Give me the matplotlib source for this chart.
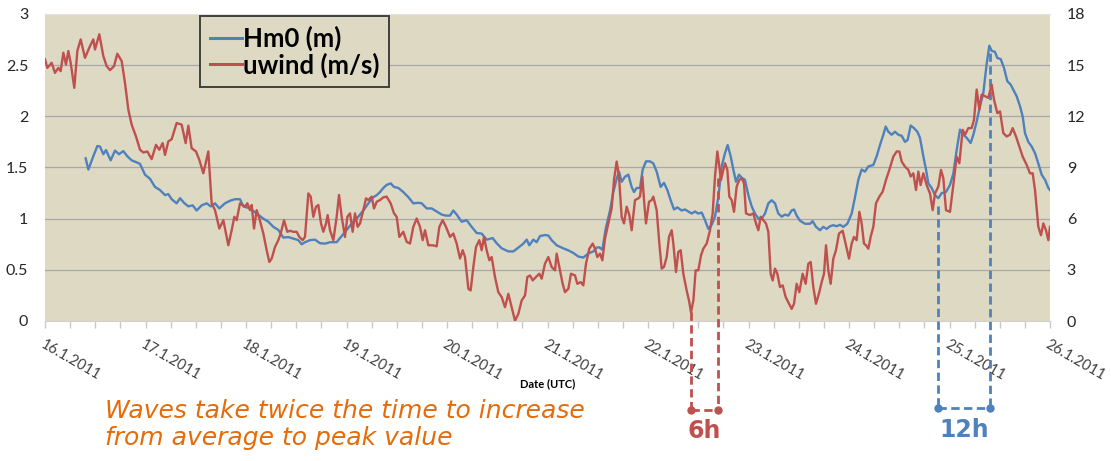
import matplotlib
matplotlib.use('Agg')
import matplotlib.pyplot as plt
from matplotlib.lines import Line2D
from matplotlib.ticker import MultipleLocator

plt.rcParams['font.family'] = ['Lato', 'DejaVu Sans']

# ---------------- data ----------------
date_labels = ['16.1.2011', '17.1.2011', '18.1.2011', '19.1.2011', '20.1.2011', '21.1.2011',
               '22.1.2011', '23.1.2011', '24.1.2011', '25.1.2011', '26.1.2011']

# hours since 16.1.2011 00:00 UTC
hm0_hours = [9.71, 10.35, 11.54, 12.50, 13.13, 13.93, 14.57, 15.68, 16.72, 17.67,
             18.71, 19.66, 20.70, 21.89, 22.69, 23.88, 25.07, 26.27, 27.46, 28.66,
             29.45, 30.25, 31.44, 32.24, 33.19, 34.23, 35.26, 36.22, 37.41, 38.61,
             39.56, 40.60, 41.63, 42.98, 44.18, 45.37, 46.57, 47.36,
             48.96, 50.55, 52.14, 53.34, 54.53, 55.72, 56.92, 58.11, 59.31, 60.50,
             61.30, 62.09, 63.29, 64.48, 65.67, 66.87, 68.06, 69.65, 70.85, 72.04,
             73.63, 74.83, 76.02, 77.22, 78.41, 79.21, 80.00, 80.80, 81.59, 82.55,
             83.35, 84.38, 85.57, 86.77, 87.96, 89.16, 89.95, 91.15, 92.34, 93.53,
             94.73, 95.76,
             96.72, 97.51, 98.31, 99.50, 100.70, 101.89, 103.09, 104.28, 105.47, 106.91,
             107.86, 109.06, 110.65, 111.84, 113.04, 114.23, 115.03, 115.66, 116.62, 117.41,
             118.21, 119.40, 120.20, 120.99, 122.19, 123.78, 124.98, 126.17, 127.36, 128.56,
             129.75, 130.95, 131.74, 132.38, 133.10, 133.89, 134.93, 135.72, 136.52, 137.07,
             137.71, 138.51, 139.30, 140.10, 140.66, 141.29, 142.09, 142.73, 143.52,
             144.48, 145.27, 146.07, 147.02, 147.82, 148.62, 149.41, 150.21, 151.01, 152.04,
             152.84, 153.63, 154.43, 155.22, 156.02, 156.82, 157.61, 158.41, 159.20, 160.00,
             160.80, 161.59, 162.39, 163.02, 163.74, 164.38, 165.02, 165.73, 166.37, 167.16,
             167.96, 168.76, 169.55, 170.35, 171.14, 171.94, 172.74, 173.53, 174.33, 175.12,
             175.92, 176.72, 177.51, 178.31, 178.87, 179.50, 180.30, 181.49, 182.69, 183.32,
             184.12, 185.07, 185.87, 186.67, 187.46, 188.26, 189.05, 189.85, 190.65,
             191.60, 192.64, 193.43, 194.23, 195.02, 195.82, 196.62, 197.81, 198.61, 199.40,
             200.20, 200.76, 201.39, 202.19, 202.98, 203.78, 204.58, 205.37, 206.01, 206.73,
             207.52, 208.32, 208.95, 209.75, 210.39, 210.94, 211.74, 212.54, 213.33, 214.13,
             215.16, 216.12, 216.91, 217.71, 218.51, 219.30, 220.10, 221.05, 221.69, 222.49,
             223.28, 224.08, 224.87, 225.51, 226.07, 226.86, 227.42, 228.22, 229.01, 229.81,
             230.61, 231.24, 232.04, 232.83, 233.47, 234.03, 234.82, 235.62, 236.42, 237.21,
             238.01, 238.81, 239.60, 240.0]

hm0_m = [1.59, 1.48, 1.61, 1.71, 1.705, 1.63, 1.67, 1.57, 1.665, 1.63,
         1.66, 1.61, 1.57, 1.55, 1.535, 1.43, 1.39, 1.31, 1.28, 1.23,
         1.24, 1.19, 1.15, 1.20, 1.155, 1.12, 1.13, 1.08, 1.13, 1.15,
         1.12, 1.15, 1.10, 1.15, 1.175, 1.19, 1.19, 1.12,
         1.10, 1.05, 1.00, 0.97, 0.92, 0.89, 0.815, 0.82, 0.805, 0.79,
         0.75, 0.77, 0.79, 0.795, 0.76, 0.756, 0.77, 0.77, 0.83, 0.89,
         0.97, 1.02, 1.08, 1.15, 1.21, 1.23, 1.26, 1.30, 1.33, 1.345,
         1.31, 1.30, 1.26, 1.21, 1.15, 1.155, 1.15, 1.10, 1.10, 1.07,
         1.04, 1.03,
         1.03, 1.08, 1.04, 0.97, 0.985, 0.92, 0.86, 0.854, 0.795, 0.81,
         0.76, 0.71, 0.68, 0.68, 0.717, 0.756, 0.795, 0.74, 0.795, 0.77,
         0.83, 0.84, 0.835, 0.79, 0.74, 0.71, 0.69, 0.665, 0.63, 0.62,
         0.66, 0.68, 0.717, 0.72, 0.697, 0.90, 1.08, 1.26, 1.39, 1.46,
         1.36, 1.41, 1.43, 1.31, 1.26, 1.30, 1.30, 1.48, 1.56,
         1.56, 1.54, 1.46, 1.31, 1.35, 1.28, 1.18, 1.09, 1.11, 1.08,
         1.09, 1.07, 1.05, 1.07, 1.05, 1.06, 0.985, 0.90, 0.94, 1.02,
         1.21, 1.51, 1.64, 1.72, 1.61, 1.48, 1.36, 1.43, 1.40, 1.38,
         1.23, 1.12, 1.05, 1.00, 1.00, 1.05, 1.15, 1.18, 1.15, 1.05,
         1.02, 1.04, 1.03, 1.08, 1.09, 1.03, 0.98, 0.95, 0.95, 0.975,
         0.92, 0.887, 0.92, 0.90, 0.926, 0.936, 0.926, 0.94, 0.92,
         0.95, 1.05, 1.21, 1.38, 1.48, 1.46, 1.51, 1.525, 1.61, 1.72,
         1.82, 1.90, 1.85, 1.82, 1.85, 1.82, 1.81, 1.75, 1.77, 1.91,
         1.885, 1.85, 1.79, 1.61, 1.48, 1.345, 1.30, 1.23, 1.20, 1.25,
         1.26, 1.33, 1.44, 1.67, 1.87, 1.82, 1.79, 1.74, 1.82, 1.95,
         2.10, 2.23, 2.51, 2.69, 2.64, 2.63, 2.57, 2.56, 2.474, 2.343,
         2.31, 2.26, 2.196, 2.10, 2.00, 1.836, 1.75, 1.705, 1.64, 1.54,
         1.43, 1.38, 1.30, 1.28]

wind_hours = [0.0, 0.56, 1.59, 2.39, 3.18, 3.74, 4.38, 5.01, 5.57, 6.13,
              7.00, 7.72, 8.52, 9.55, 10.75, 11.54, 11.94, 12.97, 13.93, 14.73,
              15.52, 16.48, 17.27, 18.31, 19.10, 19.90, 20.70, 21.73, 22.69, 23.48,
              24.44, 25.47, 26.51, 27.30, 28.10, 28.66, 29.45, 30.25, 31.44, 32.64,
              33.59, 34.23, 35.02, 36.06, 36.85, 37.81, 39.00, 39.80, 40.60, 41.63,
              42.59, 43.78, 44.58, 45.21, 45.77, 46.57, 47.76,
              48.32, 48.96, 49.36, 49.91, 50.55, 51.19, 52.14, 52.94, 53.57, 54.13,
              54.93, 55.72, 56.28, 57.08, 57.87, 58.51, 59.31, 60.10, 60.74, 61.53,
              62.09, 62.89, 63.45, 64.08, 64.72, 65.28, 65.91, 66.47, 67.11, 67.50,
              68.06, 68.86, 69.65, 70.21, 70.85, 71.64, 72.20, 72.84, 73.47, 74.03,
              74.67, 75.23, 76.02, 76.66, 77.22, 78.01, 78.57, 79.21, 80.00, 80.80,
              81.59, 82.55, 83.35, 83.98, 84.62, 85.57, 86.37, 87.17, 87.96, 88.76,
              89.55, 90.19, 90.75, 91.54, 92.58, 93.53, 94.17, 94.97, 95.76,
              96.72, 97.51, 98.31, 99.11, 99.74, 100.30, 101.10, 101.65, 102.29, 102.93,
              103.72, 104.28, 104.84, 105.47, 106.11, 106.67, 107.46, 108.26, 109.06, 109.85,
              110.65, 111.44, 112.24, 113.04, 113.83, 114.63, 115.19, 115.82, 116.46, 117.25,
              118.05, 118.61, 119.40, 120.20, 120.99, 121.79, 122.19, 122.83, 123.62, 124.18,
              124.98, 125.61, 126.57, 127.13, 127.92, 128.56, 129.19, 129.99, 130.79, 131.34,
              131.90, 132.54, 133.10, 133.73, 134.53, 135.32, 135.88, 136.52, 137.07, 137.71,
              138.27, 138.91, 139.54, 140.10, 140.90, 141.69, 142.09, 142.65, 143.05, 143.52,
              144.24, 144.88, 145.27, 146.07, 146.71, 147.26, 147.82, 148.46, 149.02, 149.65,
              150.05, 150.69, 151.24, 151.80, 152.44, 153.23, 153.79, 154.27, 154.83, 155.38,
              156.02, 156.66, 157.21, 158.01, 158.81, 159.44, 160.00, 160.56, 161.04, 161.43,
              161.99, 162.39, 162.95, 163.42, 163.98, 164.54, 165.17, 165.81, 166.37, 166.93,
              167.40, 168.36, 169.15, 169.79, 170.35, 170.91, 171.54, 172.18, 172.74, 173.29,
              173.77, 174.33, 174.89, 175.52, 176.16, 176.88, 177.51, 178.31, 178.87, 179.50,
              180.14, 180.93, 181.65, 182.29, 182.85, 183.48, 184.12, 184.91, 185.47, 186.03,
              186.51, 187.06, 187.62, 188.26, 188.89, 189.61, 190.49,
              191.28, 192.00, 192.64, 193.19, 193.83, 194.47, 195.02, 195.58, 196.06, 196.62,
              197.17, 197.81, 198.45, 199.24, 200.04, 200.83, 201.63, 202.59, 203.38, 204.02,
              204.58, 205.37, 206.17, 206.73, 207.36, 208.00, 208.56, 209.11, 209.75, 210.55,
              211.34, 211.98, 212.54, 213.33, 213.97, 214.53, 215.16, 216.12, 216.91, 217.71,
              218.35, 219.14, 219.70, 220.50, 221.29, 221.85, 222.49, 223.12, 223.68, 224.48,
              225.27, 226.07, 226.63, 227.42, 228.06, 228.85, 229.65, 230.45, 231.08, 231.88,
              232.67, 233.47, 234.43, 235.22, 235.86, 236.42, 237.21, 237.85, 238.41, 239.04,
              239.60, 240.0]

wind_ms = [15.34, 14.84, 15.14, 14.55, 14.84, 14.65, 15.73, 15.04, 15.83, 15.14,
           13.67, 15.83, 16.51, 15.43, 16.12, 16.51, 15.92, 16.81, 15.53, 14.94,
           14.71, 14.94, 15.67, 15.24, 13.96, 12.39, 11.51, 10.82, 10.04, 9.88,
           9.94, 9.49, 10.33, 10.04, 10.43, 9.74, 10.53, 10.66, 11.61, 11.51,
           10.43, 11.45, 10.13, 9.94, 9.45, 8.66, 9.94, 6.90, 6.50, 5.42,
           5.91, 4.44, 5.32, 6.11, 5.91, 6.90, 6.70,
           6.90, 6.50, 6.80, 5.42, 6.50, 6.01, 5.13, 4.15, 3.46, 3.66,
           4.34, 4.74, 5.13, 5.91, 5.23, 5.29, 5.23, 5.23, 4.93, 4.74,
           4.93, 7.48, 7.29, 6.11, 6.70, 6.80, 5.72, 5.23, 5.72, 6.21,
           5.32, 4.74, 6.11, 7.39, 6.11, 4.93, 6.11, 6.31, 5.23, 6.31,
           5.52, 5.72, 6.50, 7.19, 7.09, 7.29, 6.60, 6.99, 7.09, 7.25,
           7.29, 6.90, 6.31, 6.11, 4.93, 5.23, 4.64, 4.54, 5.52, 6.01,
           5.52, 4.74, 5.32, 4.44, 4.44, 4.38, 5.52, 5.91, 5.52,
           4.93, 5.13, 4.54, 3.66, 4.15, 3.75, 1.89, 1.79, 3.17, 4.34,
           4.74, 4.15, 4.93, 4.15, 3.56, 3.75, 2.58, 1.69, 1.40, 0.81,
           1.59, 0.81, 0.02, 0.42, 1.20, 1.50, 2.58, 2.67, 2.38, 2.58,
           2.77, 2.48, 3.36, 3.75, 3.17, 2.97, 3.95, 3.17, 2.18, 1.69,
           1.89, 2.77, 2.67, 2.18, 2.28, 2.09, 3.36, 4.24, 4.54, 4.24,
           3.75, 3.95, 3.56, 4.83, 5.72, 6.60, 8.27, 9.35, 8.47, 6.11,
           5.72, 6.70, 6.21, 5.32, 7.09, 7.19, 7.29, 8.47, 7.09, 5.72,
           6.99, 7.09, 7.29, 6.50, 4.54, 3.07, 3.17, 3.75, 4.93, 5.32,
           4.54, 2.87, 4.05, 4.15, 2.77, 1.79, 1.20, 0.51, 1.20, 2.97,
           2.97, 3.85, 4.24, 4.54, 5.32, 6.31, 8.47, 9.94, 9.05, 8.27,
           8.86, 9.25, 8.86, 7.29, 7.09, 6.40, 7.88, 8.27, 8.37, 8.07,
           6.31, 6.21, 6.31, 5.72, 5.32, 6.11, 5.91, 5.72, 5.23, 2.77,
           2.38, 3.07, 2.77, 1.99, 2.09, 1.40, 1.10, 0.71, 1.01, 2.18,
           1.69, 2.77, 2.18, 3.36, 3.46, 1.99, 1.01, 1.69, 2.28, 2.77,
           4.44, 2.97, 2.18, 3.66, 4.15, 5.13, 5.29,
           4.44, 3.66, 4.54, 4.93, 4.74, 6.40, 5.72, 4.54, 4.44, 4.24,
           4.93, 5.52, 6.90, 7.29, 7.58, 8.27, 8.86, 9.64, 9.94, 9.94,
           9.35, 9.05, 8.86, 8.47, 8.66, 7.68, 8.76, 7.97, 8.66, 7.97,
           7.48, 6.50, 7.48, 7.88, 8.86, 8.37, 6.50, 6.40, 7.97, 9.64,
           9.25, 11.21, 10.92, 11.31, 11.31, 11.80, 13.57, 12.39, 13.27, 13.18,
           13.08, 13.86, 12.98, 12.19, 12.29, 11.02, 10.82, 10.92, 11.31, 10.82,
           10.23, 9.64, 9.15, 8.66, 8.66, 7.68, 5.52, 5.03, 5.72, 5.32,
           4.74, 5.52]

# lag annotations: hours of the two dashed markers and the curve levels they start from
wind_lag_hours = [154.3, 160.6]
wind_lag_tops_ms = [0.5, 8.4]
wave_lag_hours = [213.3, 225.7]
wave_lag_tops_m = [1.12, 2.62]
lag_labels = ['6h', '12h']
note_text = 'Waves take twice the time to increase\nfrom average to peak value'

# ---------------- figure ----------------
W, H = 1111, 461
BLUE = '#4F81BD'
RED = '#C0504D'
fig = plt.figure(figsize=(W / 100, H / 100), dpi=100)
px0, px1, py0, py1 = 45, 1050, 14, 321
ax = fig.add_axes([px0 / W, 1 - py1 / H, (px1 - px0) / W, (py1 - py0) / H])
ax.set_facecolor('#DDD9C3')
xmax = 24 * (len(date_labels) - 1)
ax.set_xlim(0, xmax)
ax.set_ylim(0, 3)
ax2 = ax.twinx()
ax2.set_ylim(0, 18)

n1 = min(len(hm0_hours), len(hm0_m))
n2 = min(len(wind_hours), len(wind_ms))
ax.plot(hm0_hours[:n1], hm0_m[:n1], color=BLUE, lw=1.7, solid_joinstyle='round', zorder=3)
ax2.plot(wind_hours[:n2], wind_ms[:n2], color=RED, lw=1.7, solid_joinstyle='round', zorder=3)

# axes styling
ax.set_xticks([24 * i for i in range(len(date_labels))])
ax.set_xticklabels(date_labels, rotation=-30, ha='left', va='top', rotation_mode='anchor',
                   fontsize=10.5, color='#404040')
ax.xaxis.set_minor_locator(MultipleLocator(6))
ax.tick_params(axis='x', which='both', direction='out', length=5, width=1, color='#c8c8c8', pad=7)
ax.set_yticks([0, 0.5, 1, 1.5, 2, 2.5, 3])
ax.set_yticklabels(['0', '0.5', '1', '1.5', '2', '2.5', '3'])
ax.tick_params(axis='y', length=0, pad=12, labelsize=11.5, labelcolor='#262626')
ax2.set_yticks([0, 3, 6, 9, 12, 15, 18])
ax2.tick_params(axis='y', length=0, pad=12, labelsize=11.5, labelcolor='#262626')
ax.yaxis.grid(True, color='#a8a8a8', lw=0.9)
ax.set_axisbelow(True)
gl = ax.yaxis.get_gridlines()
gl[0].set_visible(False)
gl[-1].set_visible(False)
for s in ['left', 'right']:
    ax.spines[s].set_visible(False)
ax.spines['top'].set_color('#e4e4e4')
ax.spines['bottom'].set_color('#d0d0d0')
for s in ax2.spines.values():
    s.set_visible(False)

ax.set_xlabel('Date (UTC)', fontsize=8, fontweight='bold', color='black')
ax.xaxis.set_label_coords(0.5, -(378 - py1) / (py1 - py0))

# legend
handles = [Line2D([], [], color=BLUE, lw=2.2), Line2D([], [], color=RED, lw=2.2)]
leg = fig.legend(handles, ['Hm0 (m)', 'uwind (m/s)'], loc='upper left',
                 bbox_to_anchor=(200 / W, 1 - 16 / H), bbox_transform=fig.transFigure,
                 borderaxespad=0, frameon=True, fancybox=False, edgecolor='#404040',
                 facecolor='#DDD9C3', framealpha=1,
                 prop=dict(family='Lato', weight='bold', size=18.5),
                 handlelength=1.25, handletextpad=0.05, borderpad=0.38, labelspacing=0.05)
leg.get_frame().set_linewidth(1.4)


def ydata(axis, py):
    return axis.transData.inverted().transform((0, H - py))[1]


# lag annotations
dash = (0, (3, 1.6))
yb_r = ydata(ax2, 410)
for xh, top in zip(wind_lag_hours, wind_lag_tops_ms):
    ax2.plot([xh, xh], [top, yb_r], color=RED, lw=2, ls=dash, clip_on=False, zorder=4)
ax2.plot(wind_lag_hours, [yb_r, yb_r], color=RED, lw=2, ls=dash, marker='o', ms=5,
         clip_on=False, zorder=4)
ax2.text(sum(wind_lag_hours) / 2, ydata(ax2, 419), lag_labels[0], color=RED, fontsize=17,
         fontweight='bold', family='DejaVu Sans', ha='center', va='top', clip_on=False)

yb_b = ydata(ax, 408)
for xh, top in zip(wave_lag_hours, wave_lag_tops_m):
    ax.plot([xh, xh], [top, yb_b], color=BLUE, lw=2, ls=dash, clip_on=False, zorder=4)
ax.plot(wave_lag_hours, [yb_b, yb_b], color=BLUE, lw=2, ls=dash, marker='o', ms=5,
        clip_on=False, zorder=4)
ax.text(sum(wave_lag_hours) / 2, ydata(ax, 418), lag_labels[1], color=BLUE, fontsize=17,
        fontweight='bold', family='DejaVu Sans', ha='center', va='top', clip_on=False)

fig.text(105 / W, 1 - 399 / H, note_text, ha='left', va='top', color='#E46C0A',
         fontsize=18, style='italic', family='DejaVu Sans', linespacing=1.15)

fig.savefig('out.png', dpi=100)
